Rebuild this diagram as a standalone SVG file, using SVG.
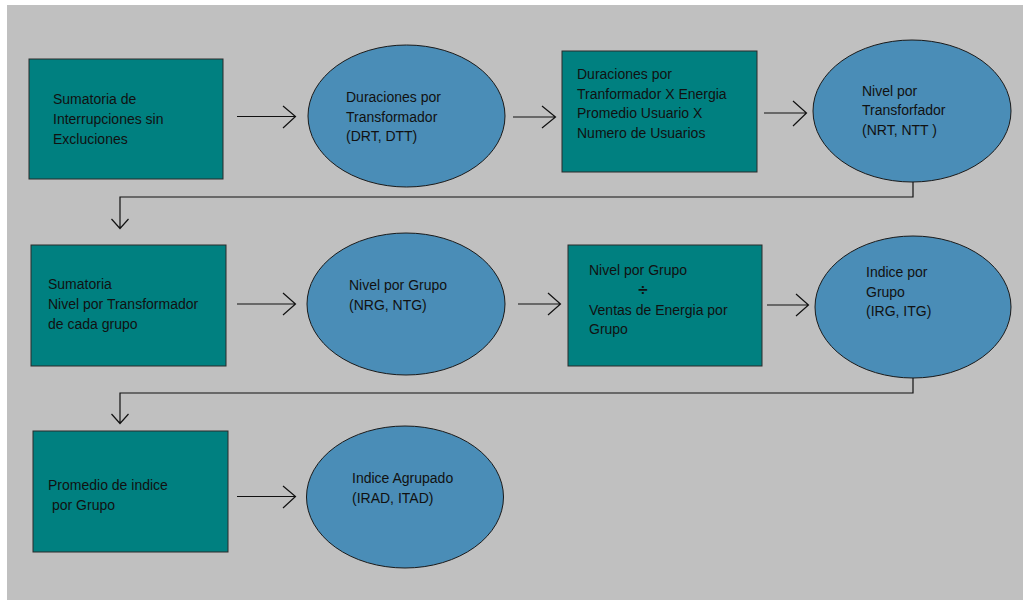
<svg xmlns="http://www.w3.org/2000/svg" width="1023" height="601" viewBox="0 0 1023 601">
<style>
.box{fill:#008080;stroke:#2a2a2a;stroke-width:1}
.ell{fill:#4a8db7;stroke:#1a1a1a;stroke-width:1}
text{font-family:"Liberation Sans",Arial,sans-serif;font-size:14px;fill:#111}
.ln{fill:none;stroke:#111;stroke-width:1.2}
</style>
<rect x="0" y="0" width="1023" height="601" fill="#ffffff"/>
<rect x="7" y="5" width="1016" height="595" fill="#c0c0c0"/>
<g id="connectors">
<path class="ln" d="M237,116.5 H295 M283,106 L295.5,116.5 L283,128"/>
<path class="ln" d="M513,117 H555 M542,106 L555.5,117 L542,128"/>
<path class="ln" d="M764,113 H806 M793,101 L806.5,113 L793,126"/>
<path class="ln" d="M913,182 V197 H120 V228 M111.5,219 L120,228.5 L128.5,219"/>
<path class="ln" d="M237,304 H295 M283,293 L295.5,304 L283,315"/>
<path class="ln" d="M518,304 H560 M548,293 L560.5,304 L548,315"/>
<path class="ln" d="M767,305 H808 M796,294 L808.5,305 L796,316"/>
<path class="ln" d="M913,378 V393 H120 V423 M111.5,414 L120,423.5 L128.5,414"/>
<path class="ln" d="M237,496.5 H295 M283,486 L295.5,496.5 L283,508"/>
</g>
<g id="n1">
<rect class="box" x="29" y="59" width="194" height="120"/>
<text x="53" y="104">Sumatoria de</text>
<text x="53" y="124">Interrupciones sin</text>
<text x="53" y="144">Excluciones</text>
</g>
<g id="n2">
<ellipse class="ell" cx="406.5" cy="116" rx="98.5" ry="71"/>
<text x="346" y="102">Duraciones por</text>
<text x="346" y="121.5">Transformador</text>
<text x="346" y="141">(DRT, DTT)</text>
</g>
<g id="n3">
<rect class="box" x="562" y="51" width="195" height="121"/>
<text x="577" y="79">Duraciones por</text>
<text x="577" y="98.7">Tranformador X Energia</text>
<text x="577" y="118.4">Promedio Usuario X</text>
<text x="577" y="138">Numero de Usuarios</text>
</g>
<g id="n4">
<ellipse class="ell" cx="912" cy="111" rx="99" ry="71"/>
<text x="862" y="95.5">Nivel por</text>
<text x="862" y="115">Transforfador</text>
<text x="862" y="135">(NRT, NTT )</text>
</g>
<g id="n5">
<rect class="box" x="31" y="245" width="195" height="121"/>
<text x="48" y="289">Sumatoria</text>
<text x="48" y="309">Nivel por Transformador</text>
<text x="48" y="328.5">de cada grupo</text>
</g>
<g id="n6">
<ellipse class="ell" cx="406" cy="304" rx="99" ry="71"/>
<text x="349" y="290">Nivel por Grupo</text>
<text x="349" y="310">(NRG, NTG)</text>
</g>
<g id="n7">
<rect class="box" x="568" y="245" width="194" height="121"/>
<text x="589" y="275">Nivel por Grupo</text>
<text x="643" y="295" text-anchor="middle" font-weight="bold" style="font-size:17px">÷</text>
<text x="589" y="314.5">Ventas de Energia por</text>
<text x="589" y="334">Grupo</text>
</g>
<g id="n8">
<ellipse class="ell" cx="913" cy="307" rx="98" ry="71"/>
<text x="866" y="277">Indice por</text>
<text x="866" y="296.5">Grupo</text>
<text x="866" y="316">(IRG, ITG)</text>
</g>
<g id="n9">
<rect class="box" x="33" y="431" width="195" height="121"/>
<text x="48" y="490">Promedio de indice</text>
<text x="52" y="510">por Grupo</text>
</g>
<g id="n10">
<ellipse class="ell" cx="405" cy="497" rx="98.5" ry="71"/>
<text x="352" y="483">Indice Agrupado</text>
<text x="352" y="503">(IRAD, ITAD)</text>
</g>
</svg>
